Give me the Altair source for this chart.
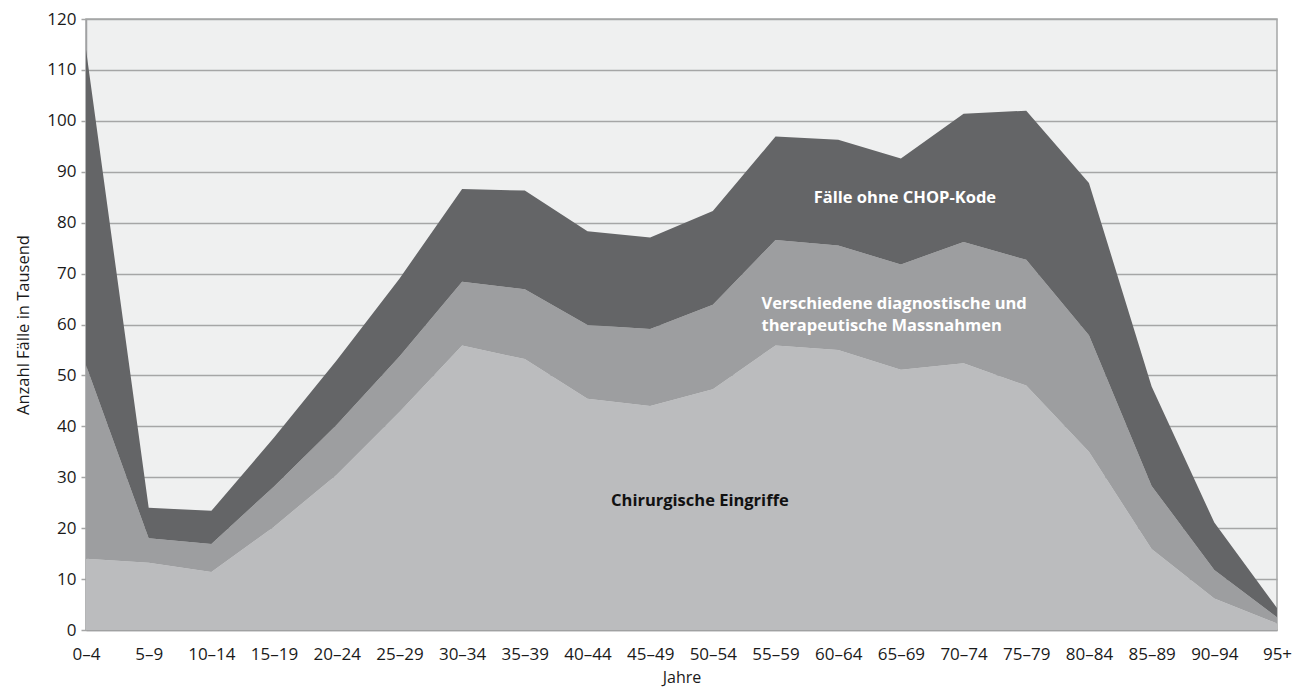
import altair as alt
import pandas as pd

categories = ["0–4", "5–9", "10–14", "15–19", "20–24", "25–29", "30–34", "35–39",
              "40–44", "45–49", "50–54", "55–59", "60–64", "65–69", "70–74", "75–79",
              "80–84", "85–89", "90–94", "95+"]

chirurgisch = [14.0, 13.2, 11.4, 20.3, 30.5, 42.8, 55.9, 53.2, 45.4, 44.0,
               47.3, 55.9, 55.0, 51.1, 52.4, 48.0, 35.0, 15.9, 6.2, 1.3]
verschiedene = [38.0, 4.8, 5.5, 7.9, 9.8, 10.9, 12.5, 13.7, 14.5, 15.1,
                16.6, 20.7, 20.5, 20.7, 23.8, 24.7, 22.9, 12.4, 5.6, 1.2]
ohne_chop = [62.0, 6.0, 6.5, 9.6, 12.7, 15.3, 18.2, 19.4, 18.4, 18.0,
             18.4, 20.3, 20.8, 20.8, 25.2, 29.3, 29.9, 19.5, 9.3, 1.8]

series_names = ["Chirurgische Eingriffe",
                "Verschiedene diagnostische und therapeutische Massnahmen",
                "Fälle ohne CHOP-Kode"]
series_colors = ["#BBBCBE", "#9D9EA0", "#646567"]

rows = []
for k, (name, vals) in enumerate(zip(series_names, [chirurgisch, verschiedene, ohne_chop])):
    for c, v in zip(categories, vals):
        rows.append({"Alter": c, "Wert": v, "Serie": name, "ord": k})
df = pd.DataFrame(rows)

FONT = "Open Sans"
TXT = "#1a1a1a"

x_enc = alt.X("Alter:N", sort=categories,
              scale=alt.Scale(type="point", padding=0),
              axis=alt.Axis(title="Jahre", labelAngle=0, tickSize=0, labelPadding=16,
                            titlePadding=7, domainColor="#A0A1A2", domainWidth=1.5,
                            labelFontSize=17, titleFontSize=16, labelColor=TXT,
                            titleColor=TXT, labelFont=FONT, titleFont=FONT,
                            titleFontWeight="normal", grid=False))

areas = alt.Chart(df).mark_area(opacity=1).encode(
    x=x_enc,
    y=alt.Y("Wert:Q", stack="zero",
            scale=alt.Scale(domain=[0, 120], nice=False),
            axis=alt.Axis(title="Anzahl Fälle in Tausend", values=list(range(0, 121, 10)),
                          tickSize=5, tickColor="#A5A6A6", tickWidth=1.5,
                          gridColor="#A5A6A6", gridWidth=1.5,
                          domainColor="#A0A1A2", domainWidth=1.5,
                          labelPadding=5, titlePadding=15,
                          labelFontSize=17, titleFontSize=16.5, labelColor=TXT,
                          titleColor=TXT, labelFont=FONT, titleFont=FONT,
                          titleFontWeight="normal")),
    color=alt.Color("Serie:N", scale=alt.Scale(domain=series_names, range=series_colors),
                    legend=None),
    order=alt.Order("ord:Q"),
)

label_cats = ["65–69", "55–59", "50–54"]
label_vals = [84.9, 64.0, 25.4]
label_texts = [["Fälle ohne CHOP-Kode"],
               ["Verschiedene diagnostische und", "therapeutische Massnahmen"],
               ["Chirurgische Eingriffe"]]
label_colors = ["#FFFFFF", "#FFFFFF", "#111111"]
label_align = ["center", "left", "center"]
label_dx = [4, -14, -13]

layers = [areas]
for c, v, t, col, al, dx in zip(label_cats, label_vals, label_texts, label_colors, label_align, label_dx):
    ldf = pd.DataFrame({"Alter": [c], "Wert": [v], "txt": [t]})
    layers.append(
        alt.Chart(ldf).mark_text(font=FONT, fontSize=16.5, fontWeight="bold", color=col,
                                 align=al, baseline="middle", dx=dx, lineHeight=22).encode(
            x=alt.X("Alter:N", sort=categories, scale=alt.Scale(type="point", padding=0)),
            y=alt.Y("Wert:Q", scale=alt.Scale(domain=[0, 120], nice=False)),
            text="txt",
        )
    )

chart = alt.layer(*layers).properties(
    width=1191, height=611,
    autosize=alt.AutoSizeParams(type="none"),
    padding={"left": 78, "top": 11, "right": 15, "bottom": 57},
    background="#FFFFFF",
).configure_view(
    fill="#EFF0F0", stroke="#A5A6A6", strokeWidth=1.5
)

chart.save("out.html", embed_options={"renderer": "svg", "actions": False})
